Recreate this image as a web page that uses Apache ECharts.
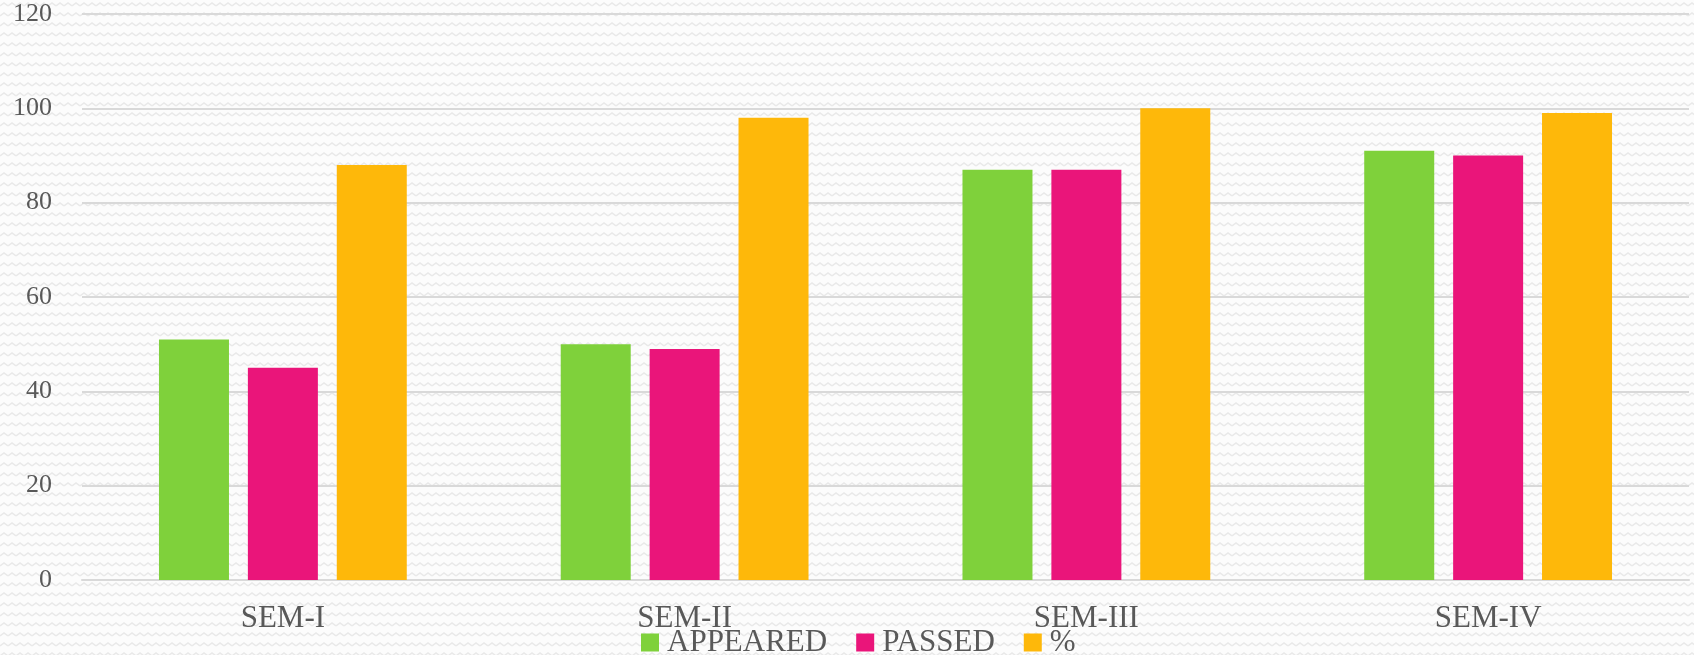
<!DOCTYPE html>
<html>
<head>
<meta charset="utf-8">
<script src="https://cdn.jsdelivr.net/npm/echarts@6/dist/echarts.min.js"></script>
<style>
  html, body { margin: 0; padding: 0; background: #fff; }
  #chart { width: 1694px; height: 655px; }
</style>
</head>
<body>
<div id="chart"></div>
<script>
const semesters = ['SEM-I', 'SEM-II', 'SEM-III', 'SEM-IV']
const appeared = [51, 50, 87, 91]
const passed = [45, 49, 87, 90]
const percent = [88, 98, 100, 99]
const yTicks = { min: 0, max: 120, interval: 20 }

const font = '"Liberation Serif", "DejaVu Serif", serif'
const textColor = '#595959'

// light zigzag background tile
function zigzagTile() {
  const c = document.createElement('canvas')
  c.width = 8
  c.height = 10
  const ctx = c.getContext('2d')
  ctx.fillStyle = '#fcfcfc'
  ctx.fillRect(0, 0, 8, 10)
  ctx.strokeStyle = '#e9e9e9'
  ctx.lineWidth = 1.5
  ctx.beginPath()
  ctx.moveTo(0, 6)
  ctx.lineTo(4, 3)
  ctx.lineTo(8, 6)
  ctx.stroke()
  return c
}

const chart = echarts.init(document.getElementById('chart'))

const bar = (name, data, color) => ({
  name,
  type: 'bar',
  data,
  barWidth: 70,
  barGap: '27%',
  itemStyle: { color },
  animation: false,
})

chart.setOption({
  backgroundColor: { image: zigzagTile(), repeat: 'repeat' },
  textStyle: { fontFamily: font },
  grid: { left: 82, right: 5, top: 14, bottom: 75, containLabel: false },
  legend: {
    left: 636,
    top: 622,
    itemWidth: 18,
    itemHeight: 18,
    itemGap: 29,
    icon: 'rect',
    textStyle: { color: textColor, fontSize: 31, fontFamily: font, padding: [0, 0, 0, 3] },
    data: ['APPEARED', 'PASSED', '%'],
  },
  xAxis: {
    type: 'category',
    data: semesters,
    axisLine: { lineStyle: { color: '#d9d9d9', width: 2 } },
    axisTick: { show: false },
    axisLabel: { color: textColor, fontSize: 31, fontFamily: font, margin: 23 },
  },
  yAxis: {
    type: 'value',
    min: yTicks.min,
    max: yTicks.max,
    interval: yTicks.interval,
    axisLine: { show: false },
    axisTick: { show: false },
    splitLine: { lineStyle: { color: '#d9d9d9', width: 2 } },
    axisLabel: { color: textColor, fontSize: 26, fontFamily: font, margin: 30 },
  },
  series: [
    bar('APPEARED', appeared, '#7fd13b'),
    bar('PASSED', passed, '#ea157a'),
    bar('%', percent, '#feb80a'),
  ],
})
</script>
</body>
</html>
